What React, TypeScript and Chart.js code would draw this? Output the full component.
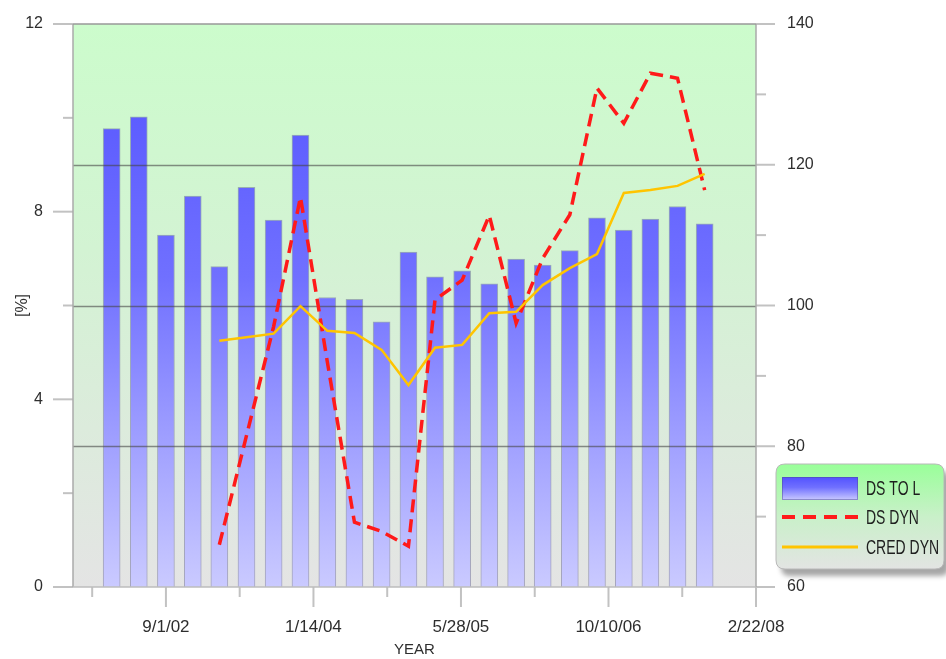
import React, { useEffect, useRef } from 'react';
import { Chart, registerables } from 'chart.js';

Chart.register(...registerables);

// ---------- data ----------
const quarterDates = [
  '2002-03-01', '2002-06-01', '2002-09-01', '2002-12-01',
  '2003-03-01', '2003-06-01', '2003-09-01', '2003-12-01',
  '2004-03-01', '2004-06-01', '2004-09-01', '2004-12-01',
  '2005-03-01', '2005-06-01', '2005-09-01', '2005-12-01',
  '2006-03-01', '2006-06-01', '2006-09-01', '2006-12-01',
  '2007-03-01', '2007-06-01', '2007-09-01',
];
const dsTolValues = [
  9.77, 10.02, 7.5, 8.33, 6.83, 8.52, 7.82, 9.63, 6.17, 6.13, 5.65, 7.14,
  6.61, 6.74, 6.46, 6.99, 6.86, 7.17, 7.87, 7.61, 7.84, 8.11, 7.74,
];
const lineDates = quarterDates.slice(4);
const dsDynValues = [
  66.0, 81.5, 97.0, 115.4, 92.0, 69.2, 67.9, 65.8, 100.8, 103.6, 112.8,
  97.5, 106.7, 112.9, 130.9, 125.9, 133.0, 132.3, 116.4,
];
const credDynValues = [
  95.0, 95.5, 96.0, 99.9, 96.4, 96.1, 93.7, 88.7, 94.0, 94.4, 98.9, 99.1,
  102.9, 105.3, 107.3, 116.0, 116.4, 117.0, 118.7,
];
const xTickLabels = ['9/1/02', '1/14/04', '5/28/05', '10/10/06', '2/22/08'];
const xStartDate = '2001-10-21';
const leftTickValues = [0, 2, 4, 6, 8, 10, 12];
const leftLabelStep = 4;
const rightTickValues = [60, 70, 80, 90, 100, 110, 120, 130, 140];
const rightLabelStep = 20;
const legendLabels = ['DS TO L', 'DS DYN', 'CRED DYN'];
const axisTitles = { x: 'YEAR', y: '[%]' };

// ---------- helpers ----------
const DAY = 86400000;
const isoToDay = (iso: string) => Date.parse(iso + 'T00:00:00Z') / DAY;
const mdyToDay = (s: string) => {
  const [m, d, y] = s.split('/').map(Number);
  return Date.UTC(2000 + y, m - 1, d) / DAY;
};
const fmtDay = (day: number) => {
  const dt = new Date(Math.round(day) * DAY);
  return `${dt.getUTCMonth() + 1}/${dt.getUTCDate()}/${String(dt.getUTCFullYear() % 100).padStart(2, '0')}`;
};

const xMajor = xTickLabels.map(mdyToDay);
const xMinor = [xMajor[0] - (xMajor[1] - xMajor[0]) / 2];
for (let i = 0; i < xMajor.length - 1; i++) xMinor.push((xMajor[i] + xMajor[i + 1]) / 2);

const FONT = "'Liberation Sans', Arial, sans-serif";
const TEXT = '#2e2e2e';

function barGradient(ctx: CanvasRenderingContext2D, top: number, bottom: number) {
  const g = ctx.createLinearGradient(0, top, 0, bottom);
  g.addColorStop(0, '#5252ff');
  g.addColorStop(0.45, '#7070ff');
  g.addColorStop(1, '#cacaff');
  return g;
}

const decorPlugin = {
  id: 'decor',
  beforeDatasetsDraw(chart: any) {
    const { ctx, chartArea: a } = chart;
    const g = ctx.createLinearGradient(0, a.top, 0, a.bottom);
    g.addColorStop(0, '#ccfccc');
    g.addColorStop(0.4, '#d3f3d3');
    g.addColorStop(1, '#e4e4e4');
    ctx.save();
    ctx.fillStyle = g;
    ctx.fillRect(a.left, a.top, a.right - a.left, a.bottom - a.top);
    ctx.restore();
  },
  afterDatasetDraw(chart: any, args: any) {
    if (args.index !== 0) return;
    const { ctx, chartArea: a } = chart;
    const y1 = chart.scales.y1;
    ctx.save();
    ctx.strokeStyle = 'rgba(70,70,70,0.6)';
    ctx.lineWidth = 1.5;
    rightTickValues.forEach((v) => {
      if (v % rightLabelStep !== 0 || v === y1.min || v === y1.max) return;
      const py = Math.round(y1.getPixelForValue(v)) + 0.5;
      ctx.beginPath();
      ctx.moveTo(a.left, py);
      ctx.lineTo(a.right, py);
      ctx.stroke();
    });
    ctx.restore();
  },
  afterDatasetsDraw(chart: any) {
    const { ctx, chartArea: a } = chart;
    const { x, y, y1 } = chart.scales;
    ctx.save();
    ctx.strokeStyle = '#c2c2c2';
    ctx.lineWidth = 2;
    const line = (x0: number, y0: number, x1: number, yy1: number) => {
      ctx.beginPath();
      ctx.moveTo(x0, y0);
      ctx.lineTo(x1, yy1);
      ctx.stroke();
    };
    leftTickValues.forEach((v) => {
      const py = y.getPixelForValue(v);
      const len = v % leftLabelStep === 0 ? 20 : 10;
      line(a.left - len, py, a.left, py);
    });
    rightTickValues.forEach((v) => {
      const py = y1.getPixelForValue(v);
      const len = v % rightLabelStep === 0 ? 19 : 10;
      line(a.right, py, a.right + len, py);
    });
    xMajor.forEach((v) => {
      const px = x.getPixelForValue(v);
      line(px, a.bottom, px, a.bottom + 20);
    });
    xMinor.forEach((v) => {
      const px = x.getPixelForValue(v);
      line(px, a.bottom, px, a.bottom + 10);
    });
    ctx.lineWidth = 1.5;
    ctx.strokeStyle = '#aaaaaa';
    line(a.left, a.top, a.left, a.bottom);
    line(a.right, a.top, a.right, a.bottom);
    ctx.strokeStyle = '#bdbdbd';
    line(a.left, a.bottom, a.right, a.bottom);
    ctx.strokeStyle = '#999999';
    line(a.left, a.top, a.right, a.top);
    ctx.restore();
  },
  afterDraw(chart: any) {
    const { ctx } = chart;
    const lx = 776, ly = 464, lw = 168, lh = 105, r = 9;
    const path = () => {
      ctx.beginPath();
      ctx.moveTo(lx + r, ly);
      ctx.lineTo(lx + lw - r, ly);
      ctx.quadraticCurveTo(lx + lw, ly, lx + lw, ly + r);
      ctx.lineTo(lx + lw, ly + lh - r);
      ctx.quadraticCurveTo(lx + lw, ly + lh, lx + lw - r, ly + lh);
      ctx.lineTo(lx + r, ly + lh);
      ctx.quadraticCurveTo(lx, ly + lh, lx, ly + lh - r);
      ctx.lineTo(lx, ly + r);
      ctx.quadraticCurveTo(lx, ly, lx + r, ly);
      ctx.closePath();
    };
    ctx.save();
    const g = ctx.createLinearGradient(0, ly, 0, ly + lh);
    g.addColorStop(0, '#99ff99');
    g.addColorStop(0.5, '#c9f0c9');
    g.addColorStop(1, '#e3e4e3');
    ctx.shadowColor = 'rgba(0,0,0,0.35)';
    ctx.shadowOffsetX = 5;
    ctx.shadowOffsetY = 7;
    ctx.shadowBlur = 5;
    path();
    ctx.fillStyle = g;
    ctx.fill();
    ctx.restore();
    ctx.save();
    path();
    ctx.strokeStyle = '#b8b8b8';
    ctx.lineWidth = 1;
    ctx.stroke();

    const sx = 782, sw = 76;
    ctx.fillStyle = barGradient(ctx, 477, 500);
    ctx.fillRect(sx, 477, sw, 23);
    ctx.strokeStyle = 'rgba(80,80,150,0.5)';
    ctx.strokeRect(sx + 0.5, 477.5, sw - 1, 22);
    ctx.strokeStyle = '#ff1a1a';
    ctx.lineWidth = 4;
    ctx.setLineDash([13, 8]);
    ctx.beginPath();
    ctx.moveTo(sx, 517);
    ctx.lineTo(sx + sw, 517);
    ctx.stroke();
    ctx.setLineDash([]);
    ctx.strokeStyle = '#ffc400';
    ctx.lineWidth = 3;
    ctx.beginPath();
    ctx.moveTo(sx, 547);
    ctx.lineTo(sx + sw, 547);
    ctx.stroke();

    ctx.fillStyle = '#1e1e1e';
    ctx.font = `20px ${FONT}`;
    ctx.textBaseline = 'middle';
    const k = 0.7;
    [488, 517, 547].forEach((yy, i) => {
      ctx.save();
      ctx.translate(866, yy);
      ctx.scale(k, 1);
      ctx.fillText(legendLabels[i], 0, 1);
      ctx.restore();
    });
    ctx.restore();
  },
};

export default function App() {
  const canvasRef = useRef<HTMLCanvasElement | null>(null);

  useEffect(() => {
    const canvas = canvasRef.current;
    if (!canvas) return;
    const fitV = (w: number) => (scale: any) => {
      scale.width = w;
      scale.paddingTop = 8;
      scale.paddingBottom = 8;
    };
    const chart = new Chart(canvas, {
      type: 'bar',
      data: {
        datasets: [
          {
            type: 'bar',
            label: legendLabels[0],
            data: quarterDates.map((d, i) => ({ x: isoToDay(d), y: dsTolValues[i] })),
            yAxisID: 'y',
            xAxisID: 'x',
            barThickness: 17,
            borderWidth: 1,
            borderColor: 'rgba(70,70,130,0.4)',
            backgroundColor: (c: any) => {
              const a = c.chart.chartArea;
              if (!a) return '#6666ff';
              return barGradient(c.chart.ctx, a.top, a.bottom);
            },
            order: 3,
          } as any,
          {
            type: 'line',
            label: legendLabels[1],
            data: lineDates.map((d, i) => ({ x: isoToDay(d), y: dsDynValues[i] })),
            yAxisID: 'y1',
            xAxisID: 'x',
            borderColor: '#ff1a1a',
            borderWidth: 3.5,
            borderDash: [13, 7],
            pointRadius: 0,
            tension: 0,
            fill: false,
            order: 2,
          } as any,
          {
            type: 'line',
            label: legendLabels[2],
            data: lineDates.map((d, i) => ({ x: isoToDay(d), y: credDynValues[i] })),
            yAxisID: 'y1',
            xAxisID: 'x',
            borderColor: '#ffc400',
            borderWidth: 2.5,
            pointRadius: 0,
            tension: 0,
            fill: false,
            order: 1,
          } as any,
        ],
      },
      options: {
        responsive: false,
        animation: false,
        layout: { padding: { top: 24, left: 0, right: 0, bottom: 0 } },
        plugins: { legend: { display: false }, tooltip: { enabled: false } },
        scales: {
          x: {
            type: 'linear',
            position: 'bottom',
            offset: false,
            min: isoToDay(xStartDate),
            max: xMajor[xMajor.length - 1],
            grid: { display: false, drawTicks: false, offset: false },
            border: { display: false },
            afterBuildTicks: (scale: any) => {
              scale.ticks = xMajor.map((v) => ({ value: v }));
            },
            afterFit: (scale: any) => {
              scale.height = 72;
            },
            ticks: {
              autoSkip: false,
              maxRotation: 0,
              padding: 30,
              color: TEXT,
              font: { family: FONT, size: 17 },
              callback: (v: any) => fmtDay(Number(v)),
            },
            title: {
              display: true,
              text: axisTitles.x,
              color: TEXT,
              font: { family: FONT, size: 15 },
              padding: { top: 0, bottom: 0 },
            },
          },
          y: {
            type: 'linear',
            position: 'left',
            min: 0,
            max: 12,
            grid: { display: false, drawTicks: false },
            border: { display: false },
            afterFit: fitV(73),
            ticks: {
              stepSize: leftLabelStep,
              padding: 30,
              color: TEXT,
              font: { family: FONT, size: 16 },
            },
            title: {
              display: true,
              text: axisTitles.y,
              color: TEXT,
              font: { family: FONT, size: 16 },
              padding: { top: 13, bottom: 0 },
            },
          },
          y1: {
            type: 'linear',
            position: 'right',
            min: 60,
            max: 140,
            grid: { display: false, drawTicks: false },
            border: { display: false },
            afterFit: fitV(190),
            ticks: {
              stepSize: rightLabelStep,
              padding: 31,
              color: TEXT,
              font: { family: FONT, size: 16 },
            },
          },
        },
      },
      plugins: [decorPlugin],
    } as any);
    return () => chart.destroy();
  }, []);

  return (
    <div style={{ position: 'fixed', left: 0, top: 0, width: 946, height: 659, background: '#fff' }}>
      <canvas ref={canvasRef} width={946} height={659} style={{ display: 'block' }} />
    </div>
  );
}
